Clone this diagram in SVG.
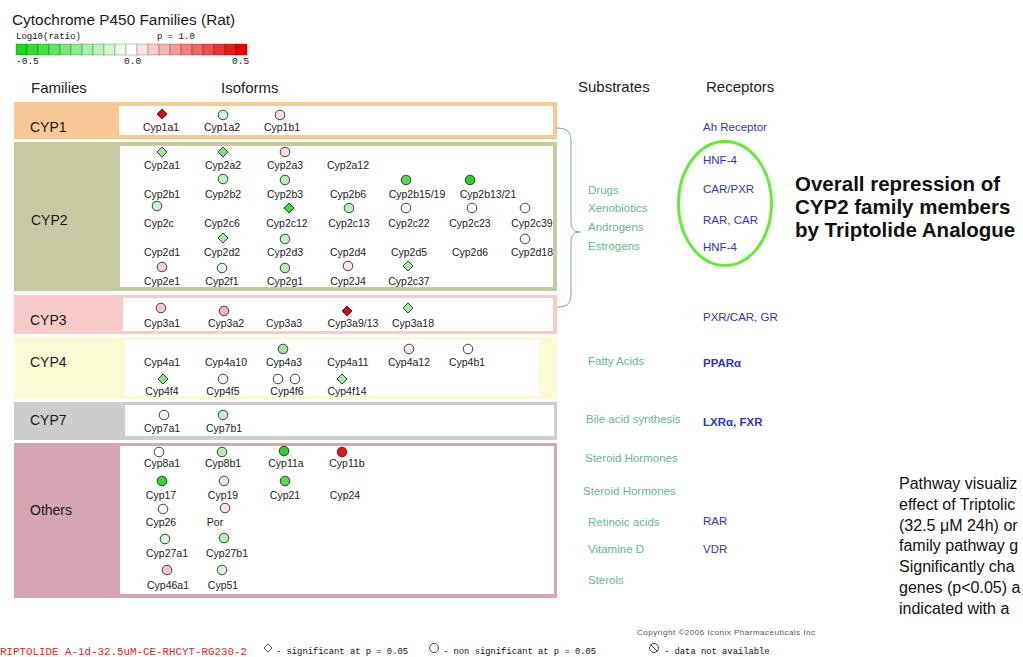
<svg xmlns="http://www.w3.org/2000/svg" xmlns:xlink="http://www.w3.org/1999/xlink" width="1023" height="657" viewBox="0 0 1023 657">
  <style>
    .sans { font-family: "Liberation Sans", Arial, sans-serif; }
    .mono { font-family: "Liberation Mono", "DejaVu Sans Mono", monospace; }
    .title { font-size: 15.4px; fill: #1a1a1a; }
    .hdr { font-size: 15px; fill: #222; }
    .fam { font-size: 14px; fill: #1a1a1a; }
    .iso { font-size: 10.5px; fill: #222; text-anchor: middle; }
    .sub { font-size: 11.5px; fill: #6DB58C; }
    .rec { font-size: 11.5px; fill: #3535B5; }
    .note { font-size: 20.5px; font-weight: bold; fill: #111; }
    .para { font-size: 16px; fill: #111; }
    .mk { stroke: #2a2a2a; stroke-width: 0.9; }
    .inner { fill: #ffffff; }
    .cell { stroke: #000; stroke-opacity: 0.22; stroke-width: 1; }
    .leg { font-size: 8.8px; fill: #111; }
  </style>
  <defs>
    <circle id="dot" r="4.8"/>
    <path id="dia" d="M0,-5 L5,0 L0,5 L-5,0 Z"/>
  </defs>

  <rect width="1023" height="657" fill="#ffffff"/>

  <!-- title and colour scale -->
  <g id="header">
    <text class="sans title" x="12" y="25">Cytochrome P450 Families (Rat)</text>
    <text class="mono" x="16" y="39" font-size="9px" fill="#111">Log10(ratio)</text>
    <text class="mono" x="157" y="39" font-size="9px" fill="#111">p = 1.0</text>
    <g id="scale">
      <rect class="cell" x="16" y="44" width="11" height="11" fill="rgb(26,219,26)"/>
      <rect class="cell" x="27" y="44" width="11" height="11" fill="rgb(48,223,48)"/>
      <rect class="cell" x="38" y="44" width="11" height="11" fill="rgb(72,226,72)"/>
      <rect class="cell" x="49" y="44" width="11" height="11" fill="rgb(95,230,95)"/>
      <rect class="cell" x="60" y="44" width="11" height="11" fill="rgb(117,233,117)"/>
      <rect class="cell" x="71" y="44" width="11" height="11" fill="rgb(140,237,140)"/>
      <rect class="cell" x="82" y="44" width="11" height="11" fill="rgb(164,240,164)"/>
      <rect class="cell" x="93" y="44" width="11" height="11" fill="rgb(186,244,186)"/>
      <rect class="cell" x="104" y="44" width="11" height="11" fill="rgb(209,248,209)"/>
      <rect class="cell" x="115" y="44" width="11" height="11" fill="rgb(232,251,232)"/>
      <rect class="cell" x="126" y="44" width="11" height="11" fill="#ffffff"/>
      <rect class="cell" x="137" y="44" width="11" height="11" fill="rgb(252,228,228)"/>
      <rect class="cell" x="148" y="44" width="11" height="11" fill="rgb(250,204,204)"/>
      <rect class="cell" x="159" y="44" width="11" height="11" fill="rgb(248,179,179)"/>
      <rect class="cell" x="170" y="44" width="11" height="11" fill="rgb(246,153,153)"/>
      <rect class="cell" x="181" y="44" width="11" height="11" fill="rgb(244,128,128)"/>
      <rect class="cell" x="192" y="44" width="11" height="11" fill="rgb(241,102,102)"/>
      <rect class="cell" x="203" y="44" width="11" height="11" fill="rgb(239,77,77)"/>
      <rect class="cell" x="214" y="44" width="11" height="11" fill="rgb(237,51,51)"/>
      <rect class="cell" x="225" y="44" width="11" height="11" fill="rgb(234,26,26)"/>
      <rect class="cell" x="236" y="44" width="11" height="11" fill="rgb(232,0,0)"/>
    </g>
    <text class="mono" x="16" y="64" font-size="9.5px" fill="#111">-0.5</text>
    <text class="mono" x="124" y="64" font-size="9.5px" fill="#111">0.0</text>
    <text class="mono" x="232" y="64" font-size="9.5px" fill="#111">0.5</text>
  </g>

  <!-- column headings -->
  <g id="columns" class="sans hdr">
    <text x="31" y="93">Families</text>
    <text x="221" y="93">Isoforms</text>
    <text x="578" y="92">Substrates</text>
    <text x="706" y="92">Receptors</text>
  </g>

  <!-- CYP1 -->
  <g id="cyp1">
    <rect x="14" y="102" width="543" height="37" fill="#F9C897"/>
    <rect class="inner" x="119" y="106" width="434" height="29"/>
    <text class="sans fam" x="30" y="132">CYP1</text>
    <g class="mk">
      <use href="#dia" x="162" y="114" fill="#E00010"/>
      <use href="#dot" x="223" y="115" fill="#D5F3D5"/>
      <use href="#dot" x="280" y="115" fill="#F8E0E0"/>
    </g>
    <g class="sans iso">
      <text x="161" y="131">Cyp1a1</text>
      <text x="222" y="131">Cyp1a2</text>
      <text x="282" y="131">Cyp1b1</text>
    </g>
  </g>

  <!-- CYP2 -->
  <g id="cyp2">
    <rect x="14" y="142" width="543" height="149" fill="#C8C8A2"/>
    <rect class="inner" x="120" y="146" width="433" height="141"/>
    <text class="sans fam" x="31" y="225">CYP2</text>
    <g class="mk">
      <use href="#dia" x="162" y="152" fill="#A0E6A0"/>
      <use href="#dia" x="223" y="152" fill="#80E080"/>
      <use href="#dot" x="285" y="152" fill="#F7DCDC"/>
      <use href="#dot" x="223" y="179" fill="#C8F0C8"/>
      <use href="#dot" x="285" y="180" fill="#B8ECB8"/>
      <use href="#dot" x="406" y="180" fill="#4CDC4C"/>
      <use href="#dot" x="470" y="180" fill="#22D622"/>
      <use href="#dot" x="157" y="206" fill="#D0F2D0"/>
      <use href="#dia" x="289" y="208" fill="#3CD83C"/>
      <use href="#dot" x="349" y="208" fill="#BDEDBD"/>
      <use href="#dot" x="406" y="208" fill="#ffffff"/>
      <use href="#dot" x="472" y="208" fill="#ffffff"/>
      <use href="#dot" x="525" y="208" fill="#ffffff"/>
      <use href="#dia" x="223" y="238" fill="#A8E8A8"/>
      <use href="#dot" x="285" y="239" fill="#C8F0C8"/>
      <use href="#dot" x="525" y="239" fill="#ffffff"/>
      <use href="#dot" x="162" y="267" fill="#F5CFCF"/>
      <use href="#dot" x="222" y="268" fill="#E4F7E4"/>
      <use href="#dot" x="285" y="268" fill="#B8ECB8"/>
      <use href="#dot" x="348" y="266" fill="#FBEAEA"/>
      <use href="#dia" x="408" y="266" fill="#B5EBB5"/>
    </g>
    <g class="sans iso">
      <text x="162" y="169">Cyp2a1</text>
      <text x="223" y="169">Cyp2a2</text>
      <text x="285" y="169">Cyp2a3</text>
      <text x="348" y="169">Cyp2a12</text>
      <text x="162" y="198">Cyp2b1</text>
      <text x="223" y="198">Cyp2b2</text>
      <text x="285" y="198">Cyp2b3</text>
      <text x="348" y="198">Cyp2b6</text>
      <text x="417" y="198">Cyp2b15/19</text>
      <text x="488" y="198">Cyp2b13/21</text>
      <text x="159" y="227">Cyp2c</text>
      <text x="222" y="227">Cyp2c6</text>
      <text x="287" y="227">Cyp2c12</text>
      <text x="349" y="227">Cyp2c13</text>
      <text x="409" y="227">Cyp2c22</text>
      <text x="470" y="227">Cyp2c23</text>
      <text x="532" y="227">Cyp2c39</text>
      <text x="162" y="256">Cyp2d1</text>
      <text x="222" y="256">Cyp2d2</text>
      <text x="285" y="256">Cyp2d3</text>
      <text x="348" y="256">Cyp2d4</text>
      <text x="409" y="256">Cyp2d5</text>
      <text x="470" y="256">Cyp2d6</text>
      <text x="532" y="256">Cyp2d18</text>
      <text x="162" y="285">Cyp2e1</text>
      <text x="222" y="285">Cyp2f1</text>
      <text x="285" y="285">Cyp2g1</text>
      <text x="348" y="285">Cyp2J4</text>
      <text x="409" y="285">Cyp2c37</text>
    </g>
  </g>

  <!-- CYP3 -->
  <g id="cyp3">
    <rect x="14" y="295" width="543" height="39" fill="#F9CACA"/>
    <rect class="inner" x="123" y="298" width="430" height="33"/>
    <text class="sans fam" x="30" y="325">CYP3</text>
    <g class="mk">
      <use href="#dot" x="161" y="308" fill="#F6C8CC"/>
      <use href="#dot" x="224" y="311" fill="#F2B5BD"/>
      <use href="#dia" x="347" y="311" fill="#E00010"/>
      <use href="#dia" x="408" y="308" fill="#A8E8A8"/>
    </g>
    <g class="sans iso">
      <text x="162" y="327">Cyp3a1</text>
      <text x="226" y="327">Cyp3a2</text>
      <text x="284" y="327">Cyp3a3</text>
      <text x="353" y="327">Cyp3a9/13</text>
      <text x="413" y="327">Cyp3a18</text>
    </g>
  </g>

  <!-- CYP4 -->
  <g id="cyp4">
    <rect x="14" y="337" width="543" height="62" fill="#FBFBD6"/>
    <rect class="inner" x="125" y="340" width="413" height="56"/>
    <text class="sans fam" x="30" y="367">CYP4</text>
    <g class="mk">
      <use href="#dot" x="283" y="349" fill="#9BE49B"/>
      <use href="#dot" x="409" y="349" fill="#FBF0F0"/>
      <use href="#dot" x="468" y="349" fill="#ffffff"/>
      <use href="#dia" x="163" y="379" fill="#90E290"/>
      <use href="#dot" x="223" y="379" fill="#EAF8EA"/>
      <use href="#dot" x="278" y="379" fill="#ffffff"/>
      <use href="#dot" x="295" y="379" fill="#ffffff"/>
      <use href="#dia" x="342" y="379" fill="#A8E8A8"/>
    </g>
    <g class="sans iso">
      <text x="162" y="366">Cyp4a1</text>
      <text x="226" y="366">Cyp4a10</text>
      <text x="284" y="366">Cyp4a3</text>
      <text x="348" y="366">Cyp4a11</text>
      <text x="409" y="366">Cyp4a12</text>
      <text x="467" y="366">Cyp4b1</text>
      <text x="162" y="395">Cyp4f4</text>
      <text x="223" y="395">Cyp4f5</text>
      <text x="287" y="395">Cyp4f6</text>
      <text x="347" y="395">Cyp4f14</text>
    </g>
  </g>

  <!-- CYP7 -->
  <g id="cyp7">
    <rect x="14" y="402" width="543" height="38" fill="#CDCDCD"/>
    <rect class="inner" x="125" y="405" width="429" height="31"/>
    <text class="sans fam" x="30" y="425">CYP7</text>
    <g class="mk">
      <use href="#dot" x="164" y="415" fill="#F0FAF0"/>
      <use href="#dot" x="223" y="415" fill="#C5EFC5"/>
    </g>
    <g class="sans iso">
      <text x="162" y="432">Cyp7a1</text>
      <text x="224" y="432">Cyp7b1</text>
    </g>
  </g>

  <!-- other P450s -->
  <g id="others">
    <rect x="14" y="443" width="543" height="155" fill="#D4A5B2"/>
    <rect class="inner" x="120" y="446" width="434" height="148"/>
    <text class="sans fam" x="30" y="515">Others</text>
    <g class="mk">
      <use href="#dot" x="159" y="452" fill="#ffffff"/>
      <use href="#dot" x="222" y="452" fill="#B5EBB5"/>
      <use href="#dot" x="284" y="451" fill="#22D822"/>
      <use href="#dot" x="342" y="452" fill="#EE1111"/>
      <use href="#dot" x="162" y="481" fill="#33D433"/>
      <use href="#dot" x="224" y="481" fill="#FAE4E4"/>
      <use href="#dot" x="285" y="481" fill="#55DA55"/>
      <use href="#dot" x="163" y="509" fill="#ffffff"/>
      <use href="#dot" x="225" y="508" fill="#F9E2E2"/>
      <use href="#dot" x="165" y="539" fill="#D8F4D8"/>
      <use href="#dot" x="224" y="538" fill="#B5EBB5"/>
      <use href="#dot" x="167" y="570" fill="#F4C8C8"/>
      <use href="#dot" x="222" y="570" fill="#D8F4D8"/>
    </g>
    <g class="sans iso">
      <text x="162" y="467">Cyp8a1</text>
      <text x="223" y="467">Cyp8b1</text>
      <text x="286" y="467">Cyp11a</text>
      <text x="347" y="467">Cyp11b</text>
      <text x="161" y="499">Cyp17</text>
      <text x="223" y="499">Cyp19</text>
      <text x="285" y="499">Cyp21</text>
      <text x="345" y="499">Cyp24</text>
      <text x="161" y="526">Cyp26</text>
      <text x="215" y="526">Por</text>
      <text x="167" y="557">Cyp27a1</text>
      <text x="227" y="557">Cyp27b1</text>
      <text x="168" y="589">Cyp46a1</text>
      <text x="223" y="589">Cyp51</text>
    </g>
  </g>

  <!-- brace joining CYP1-CYP3 to their substrates -->
  <g id="connectors" fill="none" stroke="#7AAA8A" stroke-width="1">
    <path d="M556,128 C568,128 571,132 571,142 L571,222 C571,229 574,232 580,232 C574,232 571,235 571,242 L571,293 C571,303 568,307 557,307"/>
  </g>

  <!-- substrates -->
  <g id="substrates" class="sans sub">
    <text x="588" y="194">Drugs</text>
    <text x="588" y="212">Xenobiotics</text>
    <text x="588" y="231">Androgens</text>
    <text x="588" y="250">Estrogens</text>
    <text x="588" y="365">Fatty Acids</text>
    <text x="586" y="423">Bile acid synthesis</text>
    <text x="585" y="462">Steroid Hormones</text>
    <text x="583" y="495">Steroid Hormones</text>
    <text x="588" y="526">Retinoic acids</text>
    <text x="588" y="553">Vitamine D</text>
    <text x="588" y="584">Sterols</text>
  </g>

  <!-- receptors -->
  <g id="receptors" class="sans rec">
    <text x="703" y="131">Ah Receptor</text>
    <text x="703" y="164">HNF-4</text>
    <text x="703" y="193">CAR/PXR</text>
    <text x="703" y="224">RAR, CAR</text>
    <text x="703" y="251">HNF-4</text>
    <text x="703" y="321">PXR/CAR, GR</text>
    <text x="703" y="367" font-weight="bold">PPARα</text>
    <text x="703" y="426" font-weight="bold">LXRα, FXR</text>
    <text x="703" y="525">RAR</text>
    <text x="703" y="553">VDR</text>
  </g>

  <!-- CYP2 receptor highlight -->
  <g id="highlight">
    <ellipse cx="725" cy="203.5" rx="46.5" ry="62" fill="none" stroke="#62EC36" stroke-width="3"/>
  </g>

  <g id="callout" class="sans note">
    <text x="795" y="191">Overall repression of</text>
    <text x="795" y="214">CYP2 family members</text>
    <text x="795" y="237">by Triptolide Analogue</text>
  </g>

  <g id="caption" class="sans para">
    <text x="899" y="489">Pathway visualiz</text>
    <text x="899" y="510">effect of Triptolic</text>
    <text x="899" y="531">(32.5 μM 24h) or</text>
    <text x="899" y="551">family pathway g</text>
    <text x="899" y="572">Significantly cha</text>
    <text x="899" y="593">genes (p&lt;0.05) a</text>
    <text x="899" y="614">indicated with a</text>
  </g>

  <!-- footer: sample name, symbol key, copyright -->
  <g id="footer">
    <text class="sans" x="637" y="635" font-size="8px" fill="#555" textLength="178">Copyright ©2006 Iconix Pharmaceuticals Inc</text>
    <text class="mono" x="0" y="655" font-size="10.8px" fill="#D42A2A" textLength="247">RIPTOLIDE A-1d-32.5uM-CE-RHCYT-RG230-2</text>
    <path d="M268,644 L272,648 L268,652 L264,648 Z" fill="none" stroke="#333" stroke-width="0.9"/>
    <text class="mono leg" x="276" y="654">- significant at p = 0.05</text>
    <circle cx="434" cy="648" r="4.5" fill="none" stroke="#333" stroke-width="0.9"/>
    <text class="mono leg" x="443" y="654">- non significant at p = 0.05</text>
    <circle cx="654" cy="648" r="4.5" fill="none" stroke="#333" stroke-width="0.9"/>
    <line x1="650.5" y1="644.5" x2="657.5" y2="651.5" stroke="#333" stroke-width="0.9"/>
    <text class="mono leg" x="664" y="654">- data not available</text>
  </g>
</svg>
